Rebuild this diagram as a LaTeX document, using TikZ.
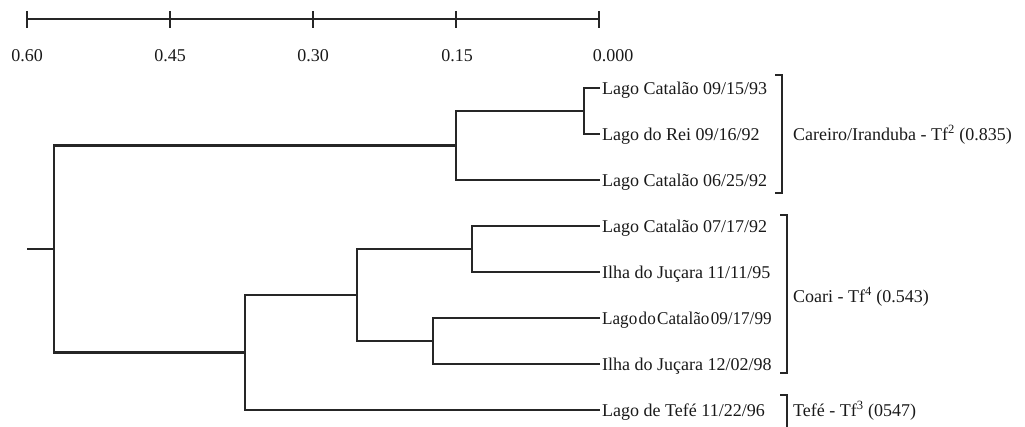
\documentclass[tikz,border=0pt]{standalone}
\usepackage{fontspec}
\setmainfont{Liberation Serif}
\begin{document}
\begin{tikzpicture}[x=1pt,y=-1pt]
\tikzset{
  edge/.style={draw=black!85, line width=2.8pt, line join=miter},
  txt/.style={inner xsep=2pt, inner ysep=0pt, text height=12.5pt, text depth=0pt,
              font=\fontsize{18}{20}\selectfont, text=black!90},
  leaf/.style={txt, anchor=west},
  grp/.style={txt, anchor=west},
  scalelbl/.style={txt, anchor=center}
}
\useasboundingbox (0,0) rectangle (1025,427);

% scale bar
\coordinate (s0) at (27,19);
\coordinate (s4) at (599,19);
\draw[edge] (s0) -- (s4);
\foreach \x in {27,170,313,456,599} {\draw[edge] (\x,11) -- (\x,28);}
\node[scalelbl] (t0) at (27,55) {0.60};
\node[scalelbl] (t1) at (170,55) {0.45};
\node[scalelbl] (t2) at (313,55) {0.30};
\node[scalelbl] (t3) at (457,55) {0.15};
\node[scalelbl] (t4) at (613,55) {0.000};

% leaves
\node[leaf] (l1) at (600,88) {Lago Catalão 09/15/93};
\node[leaf] (l2) at (600,134) {Lago do Rei 09/16/92};
\node[leaf] (l3) at (600,180) {Lago Catalão 06/25/92};
\node[leaf] (l4) at (600,226) {Lago Catalão 07/17/92};
\node[leaf] (l5) at (600,272) {Ilha do Juçara 11/11/95};
\node[leaf] (l6) at (600,318) {\scalebox{0.95}[1]{\spaceskip=0.08em\relax Lago do Catalão 09/17/99}};
\node[leaf] (l7) at (600,364) {Ilha do Juçara 12/02/98};
\node[leaf] (l8) at (600,410) {Lago de Tefé 11/22/96};

% internal nodes
\coordinate (n1) at (584,111);
\coordinate (nA) at (456,145.5);
\coordinate (c1) at (472,249);
\coordinate (c2) at (433,341);
\coordinate (nC) at (357,295);
\coordinate (nB) at (245,352.5);
\coordinate (root) at (54,249);
\coordinate (stub) at (27,249);

\draw[edge] (n1) |- (l1.west);
\draw[edge] (n1) |- (l2.west);
\draw[edge] (nA) |- (n1);
\draw[edge] (nA) |- (l3.west);
\draw[edge] (c1) |- (l4.west);
\draw[edge] (c1) |- (l5.west);
\draw[edge] (c2) |- (l6.west);
\draw[edge] (c2) |- (l7.west);
\draw[edge] (nC) |- (c1);
\draw[edge] (nC) |- (c2);
\draw[edge] (nB) |- (nC);
\draw[edge] (nB) |- (l8.west);
\draw[edge] (root) |- (nA);
\draw[edge] (root) |- (nB);
\draw[edge] (stub) -- (root);

% brackets
\draw[edge] (775,75) -- (782,75) -- (782,193) -- (775,193);
\draw[edge] (780,215) -- (787,215) -- (787,373) -- (780,373);
\draw[edge] (780,395) -- (787,395) -- (787,430);

% group labels
\node[grp] (g1) at (791,134) {Careiro/Iranduba - Tf\textsuperscript{2} (0.835)};
\node[grp] (g2) at (791,296) {Coari - Tf\textsuperscript{4} (0.543)};
\node[grp] (g3) at (791,410) {Tefé - Tf\textsuperscript{3} (0547)};
\end{tikzpicture}
\end{document}
